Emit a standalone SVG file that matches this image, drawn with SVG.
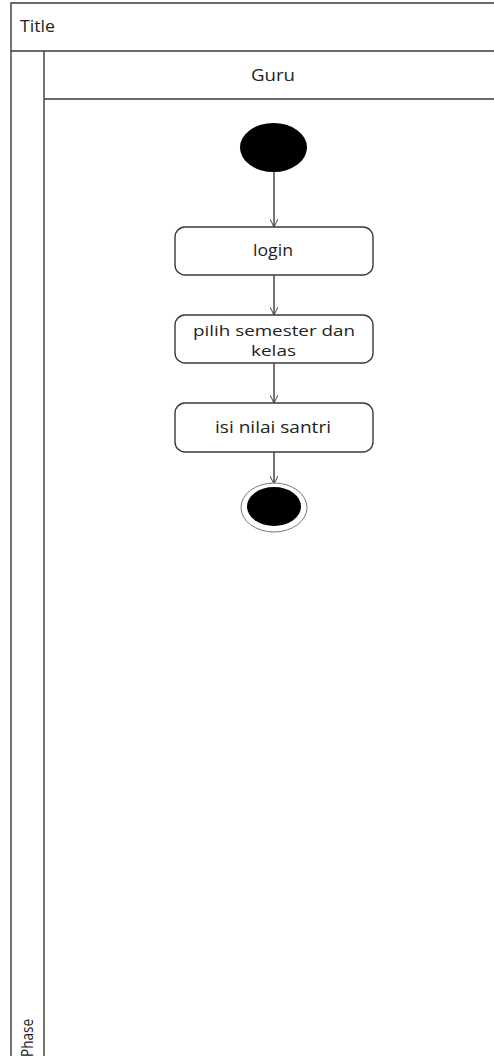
<svg xmlns="http://www.w3.org/2000/svg" width="494" height="1056" viewBox="0 0 494 1056">
<defs>
<style>
.ln{stroke:#3a3a3a;stroke-width:1.4;fill:none}
.box{fill:#fff;stroke:#3a3a3a;stroke-width:1.4}
.t{font-family:"Open Sans","Liberation Sans",sans-serif;font-size:16px;fill:#222}
.s{font-size:14px}
.c{text-anchor:middle}
</style>
<marker id="arr" viewBox="0 0 10 10" refX="10" refY="5" markerWidth="8" markerHeight="8" orient="auto" markerUnits="userSpaceOnUse">
<path d="M0,0 L10,5 L0,10" fill="none" stroke="#3a3a3a" stroke-width="1.2"/>
</marker>
</defs>
<rect width="494" height="1056" fill="#fff"/>
<g id="frame">
<path class="ln" d="M11,1056 V3 H494"/>
<path class="ln" d="M11,51 H494"/>
<path class="ln" d="M44,1056 V51"/>
<path class="ln" d="M44,99 H494"/>
<text class="t" x="20" y="32" textLength="35" lengthAdjust="spacingAndGlyphs">Title</text>
</g>
<g id="lane-guru">
<text class="t c" x="273" y="81" textLength="44" lengthAdjust="spacingAndGlyphs">Guru</text>
</g>
<g id="phase">
<text class="t" transform="translate(33,1057) rotate(-90)" textLength="38" lengthAdjust="spacingAndGlyphs">Phase</text>
</g>
<g id="connectors">
<line class="ln" x1="274" y1="172" x2="274" y2="227" marker-end="url(#arr)"/>
<line class="ln" x1="274" y1="275" x2="274" y2="315" marker-end="url(#arr)"/>
<line class="ln" x1="274" y1="363" x2="274" y2="403" marker-end="url(#arr)"/>
<line class="ln" x1="274" y1="452" x2="274" y2="484" marker-end="url(#arr)"/>
</g>
<g id="start">
<ellipse cx="273.5" cy="147.5" rx="33.5" ry="24.5" fill="#000"/>
</g>
<g id="login">
<rect class="box" x="175" y="227" width="198" height="48" rx="10"/>
<text class="t c" x="273" y="256" textLength="40" lengthAdjust="spacingAndGlyphs">login</text>
</g>
<g id="pilih">
<rect class="box" x="175" y="315" width="198" height="48" rx="10"/>
<text class="t s c" x="274" y="335.5" textLength="162" lengthAdjust="spacingAndGlyphs">pilih semester dan</text>
<text class="t s c" x="273.5" y="355.5" textLength="45" lengthAdjust="spacingAndGlyphs">kelas</text>
</g>
<g id="isi">
<rect class="box" x="175" y="403" width="198" height="49" rx="10"/>
<text class="t c" x="273" y="433" textLength="116" lengthAdjust="spacingAndGlyphs">isi nilai santri</text>
</g>
<g id="end">
<ellipse cx="274" cy="507.5" rx="33" ry="24.5" fill="#fff" stroke="#777" stroke-width="1"/>
<ellipse cx="274" cy="506.5" rx="27" ry="19.5" fill="#000"/>
</g>
</svg>
